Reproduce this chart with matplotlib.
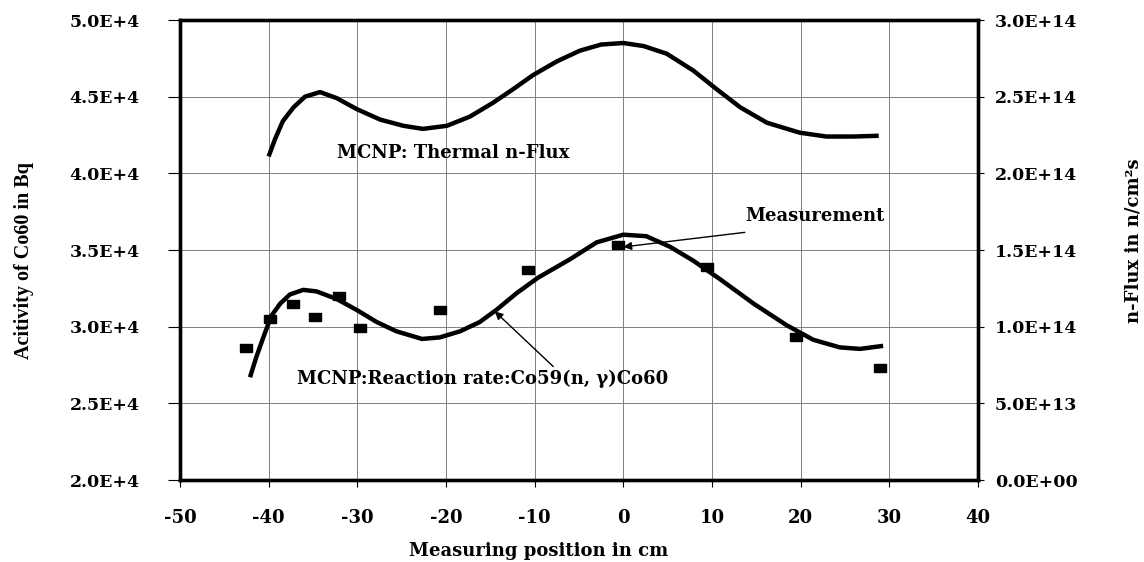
import matplotlib
matplotlib.use('Agg')
import matplotlib.pyplot as plt
from matplotlib.ticker import FixedLocator, FixedFormatter

plt.rcParams['axes.unicode_minus'] = False

# measured Co60 activity (Bq)
meas_x = [-42.6, -39.9, -37.3, -34.8, -32.1, -29.7, -20.7, -10.7, -0.6, 9.4, 19.5, 28.9]
meas_y = [2.86e4, 3.05e4, 3.15e4, 3.06e4, 3.20e4, 2.99e4, 3.11e4, 3.37e4, 3.53e4, 3.39e4, 2.93e4, 2.73e4]

# MCNP reaction rate curve (left axis scale)
rr_x = [-42.1, -41.4, -40.6, -39.7, -38.7, -37.6, -36.1, -34.6, -32.3, -30.1, -27.8, -25.6,
        -22.7, -20.7, -18.4, -16.2, -14.3, -12.0, -9.6, -6.0, -3.0, 0.0, 2.6, 5.3, 7.9,
        10.9, 14.7, 18.4, 21.4, 24.4, 26.7, 29.3]
rr_y = [2.67e4, 2.80e4, 2.93e4, 3.07e4, 3.15e4, 3.21e4, 3.24e4, 3.23e4, 3.18e4, 3.11e4,
        3.03e4, 2.97e4, 2.92e4, 2.93e4, 2.97e4, 3.03e4, 3.11e4, 3.22e4, 3.32e4, 3.44e4,
        3.55e4, 3.60e4, 3.59e4, 3.52e4, 3.43e4, 3.31e4, 3.15e4, 3.01e4, 2.915e4, 2.865e4,
        2.855e4, 2.875e4]

# MCNP thermal n-flux (right axis, n/cm2s)
flux_x = [-40.0, -39.3, -38.4, -37.2, -35.9, -34.2, -32.3, -30.1, -27.4, -24.8, -22.6, -19.9,
          -17.3, -14.7, -12.4, -10.2, -7.5, -4.9, -2.5, 0.0, 2.3, 4.9, 7.9, 10.5, 13.2,
          16.2, 19.9, 22.9, 25.9, 28.8]
flux_y = [2.11e14, 2.22e14, 2.34e14, 2.43e14, 2.50e14, 2.53e14, 2.49e14, 2.42e14, 2.35e14,
          2.31e14, 2.29e14, 2.31e14, 2.37e14, 2.46e14, 2.55e14, 2.64e14, 2.73e14, 2.80e14,
          2.84e14, 2.85e14, 2.83e14, 2.78e14, 2.67e14, 2.55e14, 2.43e14, 2.33e14, 2.265e14,
          2.24e14, 2.24e14, 2.245e14]

x_ticks = [-50, -40, -30, -20, -10, 0, 10, 20, 30, 40]
left_ticks = [2.0e4, 2.5e4, 3.0e4, 3.5e4, 4.0e4, 4.5e4, 5.0e4]
left_labels = ['2.0E+4', '2.5E+4', '3.0E+4', '3.5E+4', '4.0E+4', '4.5E+4', '5.0E+4']
right_ticks = [0.0, 0.5e14, 1.0e14, 1.5e14, 2.0e14, 2.5e14, 3.0e14]
right_labels = ['0.0E+00', '5.0E+13', '1.0E+14', '1.5E+14', '2.0E+14', '2.5E+14', '3.0E+14']

bold = dict(family='DejaVu Serif', weight='bold')

fig = plt.figure(figsize=(11.44, 5.62), dpi=100)
ax = fig.add_axes([0.1573, 0.1459, 0.6976, 0.8185])
ax2 = ax.twinx()

ax.set_xlim(-50, 40)
ax.set_ylim(2.0e4, 5.0e4)
ax2.set_ylim(0, 3.0e14)

ax.grid(True, color='#808080', lw=0.7)
ax.set_axisbelow(True)

ax.plot(rr_x, rr_y, color='black', lw=3.2, solid_capstyle='butt',
        solid_joinstyle='round', zorder=3)
ax2.plot(flux_x, flux_y, color='black', lw=3.2, solid_capstyle='butt',
         solid_joinstyle='round')
rect = [(-1, -0.6), (1, -0.6), (1, 0.6), (-1, 0.6), (-1, -0.6)]
ax.plot(meas_x, meas_y, linestyle='none', marker=rect, markersize=9,
        color='black', zorder=4)

# ticks
ax.xaxis.set_major_locator(FixedLocator(x_ticks))
ax.yaxis.set_major_locator(FixedLocator(left_ticks))
ax.yaxis.set_major_formatter(FixedFormatter(left_labels))
ax2.yaxis.set_major_locator(FixedLocator(right_ticks))
ax2.yaxis.set_major_formatter(FixedFormatter(right_labels))
ax.tick_params(axis='x', direction='out', length=5, width=0.8, pad=16)
ax.tick_params(axis='y', direction='out', length=9, width=0.8, pad=20)
ax2.tick_params(axis='y', direction='out', length=4, width=0.8, pad=8)
for lab in ax.get_xticklabels():
    lab.set(fontsize=13, **bold)
for lab in ax.get_yticklabels():
    lab.set(fontsize=12.5, **bold)
for lab in ax2.get_yticklabels():
    lab.set(fontsize=12.5, **bold)

for a in (ax, ax2):
    for s in a.spines.values():
        s.set_linewidth(2.4)

# axis labels
ax.set_xlabel('Measuring position in cm', fontsize=13, **bold)
ax.xaxis.set_label_coords(0.45, -0.135)
ax.set_ylabel('Acitivity of Co60 in Bq', fontsize=14.5, family='Liberation Serif', weight='bold')
ax.yaxis.set_label_coords(-0.183, 0.478)
ax2.set_ylabel('n-Flux in n/cm\u00b2s', fontsize=13, **bold)
ax2.yaxis.set_label_coords(1.184, 0.52)

# curve labels
ax.text(-32.3, 4.13e4, 'MCNP: Thermal n-Flux', fontsize=13, va='center', ha='left', **bold)
ax.text(-36.8, 2.66e4, 'MCNP:Reaction rate:Co59(n, \u03b3)Co60', fontsize=13,
        va='center', ha='left', **bold)
ax.text(13.7, 3.72e4, 'Measurement', fontsize=13, va='center', ha='left', **bold)

arrow = dict(arrowstyle='-|>', color='black', lw=1.0, mutation_scale=12,
             shrinkA=0, shrinkB=0)
ax.annotate('', xy=(0.0, 3.52e4), xytext=(13.7, 3.615e4), arrowprops=arrow)
ax.annotate('', xy=(-14.5, 3.10e4), xytext=(-7.9, 2.74e4), arrowprops=arrow)

fig.savefig('out.png', dpi=100)
